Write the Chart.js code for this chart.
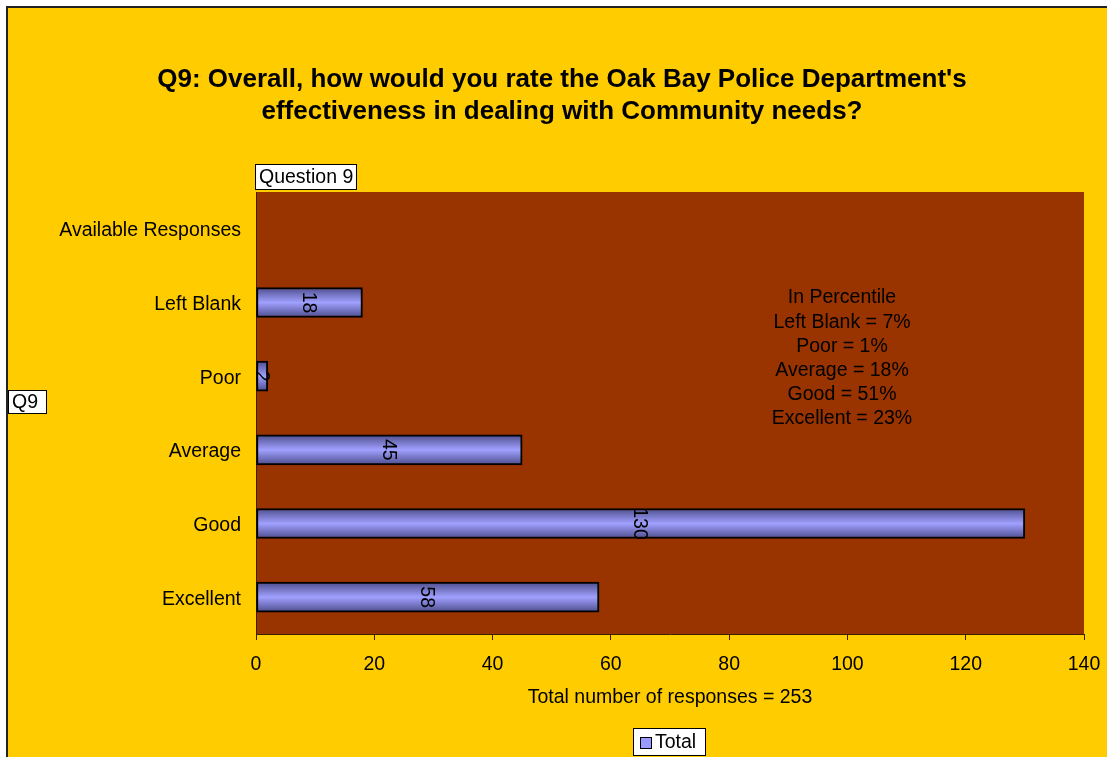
<!DOCTYPE html>
<html lang="en">
<head>
  <meta charset="UTF-8" />
  <title>Q9 Oak Bay Police</title>
  <script src="https://cdn.jsdelivr.net/npm/chart.js"></script>
  <style>
    body { margin: 0; background: #ffffff; }
    canvas { display: block; }
  </style>
</head>
<body>
  <canvas id="q9Chart" width="1107" height="757"></canvas>

  <script>
    const categories = ['Available Responses', 'Left Blank', 'Poor', 'Average', 'Good', 'Excellent'];
    const totals = [null, 18, 2, 45, 130, 58];
    const xTicks = [0, 20, 40, 60, 80, 100, 120, 140];
    const titleLines = [
      "Q9: Overall, how would you rate the Oak Bay Police Department's",
      'effectiveness in dealing with Community needs?'
    ];
    const percentLines = ['In Percentile', 'Left Blank = 7%', 'Poor = 1%', 'Average = 18%', 'Good = 51%', 'Excellent = 23%'];
    const xTitle = 'Total number of responses = 253';

    const font = 'Arial, "Liberation Sans", sans-serif';
    const fs = 19.5;

    function barFill(context) {
      const chart = context.chart;
      const y = chart.scales.y;
      if (!chart.chartArea || !y) return '#9999ff';
      const cy = y.getPixelForValue(context.dataIndex);
      const g = chart.ctx.createLinearGradient(0, cy - 15, 0, cy + 15);
      g.addColorStop(0, '#4d4d8c');
      g.addColorStop(0.5, '#a0a0ff');
      g.addColorStop(1, '#4d4d8c');
      return g;
    }

    function textBox(ctx, text, x, y, w, h) {
      ctx.font = fs + 'px ' + font;
      ctx.fillStyle = '#ffffff';
      ctx.fillRect(x, y, w, h);
      ctx.strokeStyle = '#000000';
      ctx.lineWidth = 1;
      ctx.strokeRect(x + 0.5, y + 0.5, w, h);
      ctx.fillStyle = '#000000';
      ctx.textAlign = 'left';
      ctx.textBaseline = 'middle';
      ctx.fillText(text, x + 4, y + h / 2 + 1);
    }

    const decor = {
      id: 'decor',
      beforeDraw(chart) {
        const ctx = chart.ctx;
        const a = chart.chartArea;
        ctx.save();
        ctx.fillStyle = '#ffffff';
        ctx.fillRect(0, 0, chart.width, chart.height);
        ctx.fillStyle = '#222222';
        ctx.fillRect(6, 6, chart.width, chart.height);
        ctx.fillStyle = '#ffcc00';
        ctx.fillRect(8, 8, chart.width, chart.height);
        ctx.fillStyle = '#993300';
        ctx.fillRect(a.left, a.top, a.right - a.left, a.bottom - a.top);

        ctx.fillStyle = '#000000';
        ctx.textAlign = 'center';
        ctx.textBaseline = 'middle';
        ctx.font = 'bold 26px ' + font;
        titleLines.forEach((t, i) => ctx.fillText(t, 562, 80 + i * 32));

        ctx.font = fs + 'px ' + font;
        ctx.fillText(xTitle, 670, 698);
        ctx.restore();
      },
      afterDraw(chart) {
        const ctx = chart.ctx;
        ctx.save();
        ctx.fillStyle = '#000000';
        ctx.font = fs + 'px ' + font;
        ctx.textAlign = 'center';
        ctx.textBaseline = 'middle';
        percentLines.forEach((t, i) => ctx.fillText(t, 842, 298 + i * 24.2));

        textBox(ctx, 'Question 9', 255, 164, 101, 25);
        textBox(ctx, 'Q9', 8, 390, 38, 23);

        // legend
        const lx = 633, ly = 728, lw = 72, lh = 27;
        ctx.fillStyle = '#ffffff';
        ctx.fillRect(lx, ly, lw, lh);
        ctx.strokeStyle = '#000000';
        ctx.lineWidth = 1;
        ctx.strokeRect(lx + 0.5, ly + 0.5, lw, lh);
        ctx.fillStyle = '#9999ff';
        ctx.fillRect(lx + 7, ly + 9, 11, 11);
        ctx.strokeRect(lx + 7.5, ly + 9.5, 11, 11);
        ctx.fillStyle = '#000000';
        ctx.font = fs + 'px ' + font;
        ctx.textAlign = 'left';
        ctx.fillText('Total', lx + 22, ly + lh / 2 + 1);
        ctx.restore();
      },
      afterDatasetsDraw(chart) {
        const ctx = chart.ctx;
        const meta = chart.getDatasetMeta(0);
        ctx.save();
        ctx.fillStyle = '#000000';
        ctx.font = fs + 'px ' + font;
        ctx.textAlign = 'center';
        ctx.textBaseline = 'middle';
        meta.data.forEach((bar, i) => {
          if (totals[i] == null) return;
          const cx = (bar.x + bar.base) / 2;
          ctx.save();
          ctx.translate(cx, bar.y);
          ctx.rotate(Math.PI / 2);
          ctx.fillText(String(totals[i]), 0, 1);
          ctx.restore();
        });
        ctx.restore();
      }
    };

    new Chart(document.getElementById('q9Chart'), {
      type: 'bar',
      data: {
        labels: categories,
        datasets: [{
          label: 'Total',
          data: totals,
          backgroundColor: barFill,
          borderColor: '#000000',
          borderWidth: 2,
          borderSkipped: false,
          barThickness: 30
        }]
      },
      options: {
        indexAxis: 'y',
        responsive: false,
        animation: false,
        devicePixelRatio: 1,
        layout: { padding: { left: 8, top: 192, right: 23, bottom: 83 } },
        plugins: { legend: { display: false }, tooltip: { enabled: false } },
        scales: {
          x: {
            min: 0,
            max: 140,
            afterBuildTicks: s => { s.ticks = xTicks.map(v => ({ value: v })); },
            afterFit: s => { s.height = 40; s.paddingLeft = 0; s.paddingRight = 0; },
            ticks: { color: '#000000', font: { size: fs, family: font }, padding: 13, maxRotation: 0 },
            grid: { drawOnChartArea: false, drawTicks: true, tickLength: 6, color: '#3a2200' },
            border: { color: '#3a2200', width: 1 }
          },
          y: {
            afterFit: s => { s.width = 248; s.paddingTop = 0; s.paddingBottom = 0; },
            ticks: { color: '#000000', font: { size: fs, family: font }, padding: 7, labelOffset: 2 },
            grid: { display: false },
            border: { color: '#3a2200', width: 1 }
          }
        }
      },
      plugins: [decor]
    });
  </script>
</body>
</html>
